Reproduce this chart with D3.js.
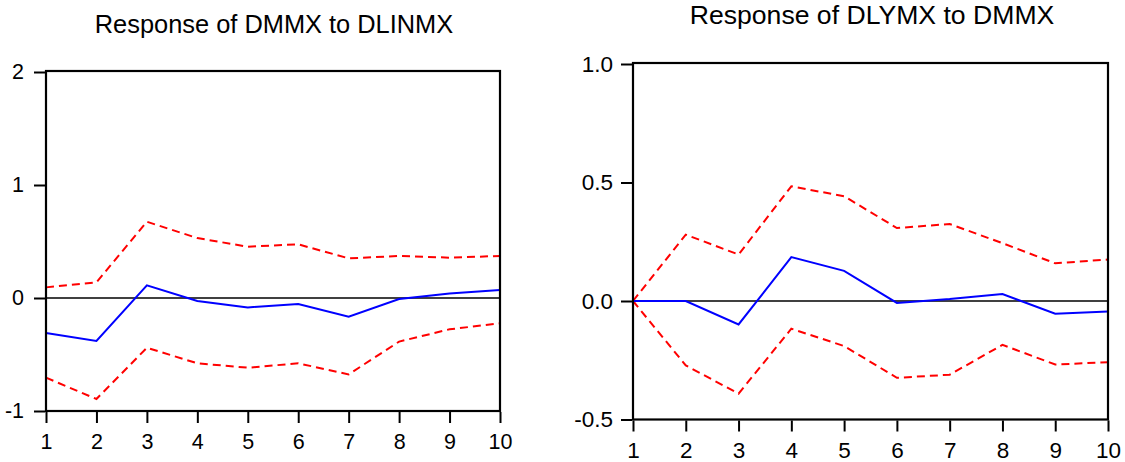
<!DOCTYPE html>
<html>
<head>
<meta charset="utf-8">
<script src="https://cdn.jsdelivr.net/npm/d3@7"></script>
<style>
  body { margin: 0; background: #fff; }
  svg { display: block; }
  text { font-family: Arial, "Liberation Sans", sans-serif; fill: #000; }
</style>
</head>
<body>
<div id="chart"></div>
<script>
// periods after the shock
var periods = [1, 2, 3, 4, 5, 6, 7, 8, 9, 10];

// Response of DMMX to DLINMX
var leftResp  = [-0.31, -0.38, 0.112, -0.027, -0.083, -0.053, -0.165, -0.009, 0.04, 0.07];
var leftUpper = [0.094, 0.139, 0.675, 0.53, 0.454, 0.475, 0.351, 0.372, 0.357, 0.372];
var leftLower = [-0.705, -0.894, -0.44, -0.578, -0.617, -0.578, -0.676, -0.386, -0.277, -0.224];
var leftTicks = [-1, 0, 1, 2];

// Response of DLYMX to DMMX
var rightResp  = [0, 0, -0.099, 0.185, 0.127, -0.008, 0.008, 0.029, -0.054, -0.044];
var rightUpper = [0, 0.28, 0.196, 0.484, 0.442, 0.308, 0.325, 0.244, 0.159, 0.175];
var rightLower = [0, -0.272, -0.391, -0.117, -0.19, -0.324, -0.311, -0.185, -0.268, -0.258];
var rightTicks = [-0.5, 0, 0.5, 1.0];

var W = 1125, H = 462;
var svg = d3.select("#chart").append("svg")
  .attr("width", W)
  .attr("height", H);

function make_panel(opts) {
  var x = d3.scaleLinear().domain([1, 10]).range([opts.x0, opts.x1]);
  var y = d3.scaleLinear().domain(opts.ydom).range([opts.y1, opts.y0]);
  var g = svg.append("g");

  // title
  g.append("text")
    .attr("x", opts.titleX)
    .attr("y", opts.titleY)
    .attr("text-anchor", "middle")
    .style("font-size", opts.titleSize + "px")
    .text(opts.title);

  // zero line
  g.append("line")
    .attr("x1", x(1)).attr("x2", x(10))
    .attr("y1", y(0)).attr("y2", y(0))
    .attr("stroke", "#000")
    .attr("stroke-width", 1.6);

  var line = d3.line()
    .x(function(d, i) { return x(periods[i]); })
    .y(function(d) { return y(d); });

  // confidence bands
  [opts.upper, opts.lower].forEach(function(s) {
    g.append("path")
      .attr("d", line(s))
      .attr("fill", "none")
      .attr("stroke", "#ff0000")
      .attr("stroke-width", 2)
      .attr("stroke-dasharray", "8,5");
  });

  // impulse response
  g.append("path")
    .attr("d", line(opts.resp))
    .attr("fill", "none")
    .attr("stroke", "#0000ff")
    .attr("stroke-width", 2);

  // frame
  g.append("rect")
    .attr("x", x(1)).attr("y", y(opts.ydom[1]) - 1)
    .attr("width", x(10) - x(1))
    .attr("height", y(opts.ydom[0]) - y(opts.ydom[1]) + 1)
    .attr("fill", "none")
    .attr("stroke", "#000")
    .attr("stroke-width", 2.2);

  // axes
  var ya = g.append("g")
    .attr("transform", "translate(" + (x(1) - 1) + ",0)")
    .call(d3.axisLeft(y).tickValues(opts.ticks).tickSize(11).tickPadding(opts.ypad)
      .tickFormat(opts.fmt));
  var xa = g.append("g")
    .attr("transform", "translate(0," + (y(opts.ydom[0]) + 1) + ")")
    .call(d3.axisBottom(x).tickValues(periods).tickSize(11).tickPadding(11)
      .tickFormat(d3.format("d")));

  [ya, xa].forEach(function(a) {
    a.attr("font-size", opts.tickSize).attr("font-family", "Arial, 'Liberation Sans', sans-serif");
    a.select(".domain").remove();
    a.selectAll(".tick line").attr("stroke", "#000").attr("stroke-width", 2);
    a.selectAll(".tick text")
      .style("font-size", opts.tickSize + "px")
      .attr("fill", "#000");
  });
}

make_panel({
  title: "Response of DMMX to DLINMX",
  titleX: 274, titleY: 33, titleSize: 25.4, tickSize: 21.5,
  x0: 46, x1: 500, y0: 72, y1: 411,
  ydom: [-1, 2], ticks: leftTicks, ypad: 10,
  fmt: function(d) { return String(d); },
  resp: leftResp, upper: leftUpper, lower: leftLower
});

make_panel({
  title: "Response of DLYMX to DMMX",
  titleX: 872, titleY: 24, titleSize: 26.6, tickSize: 22.5,
  x0: 633, x1: 1108, y0: 64, y1: 419.5,
  ydom: [-0.5, 1.0], ticks: rightTicks, ypad: 8,
  fmt: function(d) { return d.toFixed(1); },
  resp: rightResp, upper: rightUpper, lower: rightLower
});
</script>
</body>
</html>
